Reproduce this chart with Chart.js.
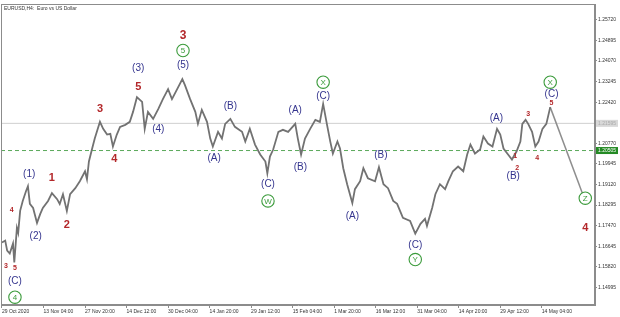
<!DOCTYPE html>
<html><head><meta charset="utf-8">
<script src="https://cdn.jsdelivr.net/npm/chart.js@4.4.1/dist/chart.umd.min.js"></script>
<style>html,body{margin:0;padding:0;background:#fff;}#wrap{width:620px;height:317px;}</style>
</head><body><div id="wrap"><canvas id="c" width="620" height="317"></canvas></div>
<script>
// ---- data (H4 bar index from 29 Oct 2020, price) ----
const barIndex = [0,5,8,12,17,19,23,25,28,32,37,40,43,48,54,59,63,71,77,85,89,94,100,105,113,120,128,131,134,139,143,151,156,162,167,171,177,182,190,197,202,208,216,220,225,233,241,248,256,262,270,278,282,290,298,302,308,316,321,325,333,339,344,352,359,370,375,382,390,398,406,409,413,418,426,433,441,452,456,461,467,475,483,490,495,501,506,510,517,521,526,532,540,544,552,557,564,575,581,588,595,603,609,618,629,637,645,652,655,663,668,675,683,688,695,703,711,717,722,729,737,742,749,756,763,768,773,780,786,793,799,802,807,811,817,822,827,833,839,845];
const closePrices = [1.1679,1.1687,1.1647,1.1635,1.1675,1.1599,1.1738,1.1718,1.1806,1.1846,1.1885,1.1905,1.1834,1.1818,1.1758,1.1794,1.1818,1.1846,1.1877,1.1853,1.1834,1.1873,1.1806,1.1873,1.1897,1.1925,1.1965,1.1933,1.2004,1.2056,1.2096,1.2163,1.2135,1.2112,1.2115,1.2064,1.2112,1.2143,1.2151,1.2163,1.2203,1.2262,1.2243,1.2135,1.2203,1.2175,1.2215,1.2254,1.2294,1.2254,1.2294,1.2334,1.2310,1.2254,1.2203,1.2155,1.2211,1.2163,1.2096,1.2064,1.2123,1.2096,1.2155,1.2175,1.2143,1.2123,1.2084,1.2135,1.2072,1.2032,1.2004,1.1957,1.2024,1.2052,1.2123,1.2131,1.2123,1.2155,1.2096,1.2032,1.2096,1.2135,1.2171,1.2163,1.2235,1.2151,1.2084,1.2036,1.2084,1.2056,1.1977,1.1913,1.1838,1.1893,1.1925,1.1977,1.1937,1.1925,1.1981,1.1913,1.1897,1.1846,1.1834,1.1778,1.1766,1.1715,1.1754,1.1774,1.1746,1.1818,1.1873,1.1913,1.1893,1.1925,1.1965,1.1984,1.1965,1.2032,1.2072,1.2036,1.2052,1.2104,1.2076,1.2064,1.2135,1.2112,1.2056,1.2032,1.2012,1.2044,1.2084,1.2155,1.2171,1.2155,1.2123,1.2064,1.2084,1.2135,1.2155,1.2222];
const projectionBars = [845, 899];
const projectionPrices = [1.2222, 1.1846];
const xTickBars = [0,64,128,192,256,320,384,448,512,576,640,704,768,832];
const xTickLabels = ["29 Oct 2020","13 Nov 04:00","27 Nov 20:00","14 Dec 12:00","30 Dec 04:00","14 Jan 20:00","29 Jan 12:00","15 Feb 04:00","1 Mar 20:00","16 Mar 12:00","31 Mar 04:00","14 Apr 20:00","29 Apr 12:00","14 May 04:00"];
const yTickValues = [1.25720,1.24895,1.24070,1.23245,1.22420,1.21595,1.20770,1.19945,1.19120,1.18295,1.17470,1.16645,1.15820,1.14995];
const greyLevel = 1.2157;
const bidLevel = 1.2048;
const bidText = "1.20505";
const greyText = "1.21595";
const chartTitle = "EURUSD,H4:  Euro vs US Dollar";

// wave labels: text / bar / price
const blueText  = ["(C)","(1)","(2)","(3)","(4)","(5)","(A)","(B)","(C)","(A)","(B)","(C)","(A)","(B)","(C)","(A)","(B)","(C)"];
const blueBar   = [20,42,52,210,241,279,327,352,410,452,460,495,540,584,637,762,788,847];
const bluePrice = [1.1524,1.1953,1.1703,1.2378,1.2135,1.2389,1.2016,1.2227,1.1913,1.2211,1.1981,1.2266,1.1786,1.2028,1.1667,1.2179,1.1945,1.2274];

const redText  = ["1","2","3","4","5","3","4"];
const redBar   = [77,100,151,173,210,279,899];
const redPrice = [1.1937,1.1750,1.2215,1.2016,1.2302,1.2508,1.1738];

const smallRedText  = ["3","5","4","1","2","3","4","5"];
const smallRedBar   = [6,20,15,791,794,811,825,847];
const smallRedPrice = [1.1584,1.1576,1.1810,1.2024,1.1977,1.2195,1.2016,1.2239];

const circleText  = ["4","5","W","X","Y","X","Z"];
const circleBar   = [20,279,410,495,637,845,899];
const circlePrice = [1.1460,1.2449,1.1846,1.2322,1.1611,1.2322,1.1857];

const X_MIN = -1.5, X_MAX = 914, Y_MIN = 1.14287, Y_MAX = 1.26355;

Chart.defaults.font.family = '"Liberation Sans", Arial, sans-serif';

const overlay = {
  id: 'overlay',
  afterDatasetsDraw(chart) {
    const {ctx, chartArea: a, scales: {x, y}} = chart;
    ctx.save();
    ctx.textAlign = 'center';
    ctx.textBaseline = 'middle';
    // blue labels
    ctx.fillStyle = '#34348e';
    ctx.font = '10px "Liberation Sans", Arial, sans-serif';
    blueText.forEach((t, i) => ctx.fillText(t, x.getPixelForValue(blueBar[i]), y.getPixelForValue(bluePrice[i])));
    // red labels
    ctx.fillStyle = '#b3272a';
    redText.forEach((t, i) => {
      ctx.font = (t === '3' && redPrice[i] > 1.245) ? 'bold 12px "Liberation Sans", Arial, sans-serif' : 'bold 11px "Liberation Sans", Arial, sans-serif';
      ctx.fillText(t, x.getPixelForValue(redBar[i]), y.getPixelForValue(redPrice[i]));
    });
    ctx.font = 'bold 7px "Liberation Sans", Arial, sans-serif';
    smallRedText.forEach((t, i) => ctx.fillText(t, x.getPixelForValue(smallRedBar[i]), y.getPixelForValue(smallRedPrice[i])));
    // green circled labels
    circleText.forEach((t, i) => {
      const cx = x.getPixelForValue(circleBar[i]), cy = y.getPixelForValue(circlePrice[i]);
      ctx.beginPath();
      ctx.arc(cx, cy, 6.2, 0, Math.PI * 2);
      ctx.fillStyle = '#ffffff';
      ctx.fill();
      ctx.strokeStyle = '#3b9b3b';
      ctx.lineWidth = 1.1;
      ctx.stroke();
      ctx.fillStyle = '#3b9b3b';
      ctx.font = '8px "Liberation Sans", Arial, sans-serif';
      ctx.fillText(t, cx, cy + 0.5);
    });
    // title
    ctx.textAlign = 'left';
    ctx.fillStyle = '#333';
    ctx.font = '5px "Liberation Sans", Arial, sans-serif';
    ctx.fillText(chartTitle, a.left + 3, a.top + 5);
    // frame
    ctx.strokeStyle = '#8c8c8c';
    ctx.lineWidth = 1;
    ctx.strokeRect(a.left + 0.5, a.top + 0.5, a.width - 1, a.height - 1);
    ctx.restore();
  },
  afterDraw(chart) {
    const {ctx, chartArea: a, scales: {y}} = chart;
    ctx.save();
    ctx.font = '5px "Liberation Sans", Arial, sans-serif';
    ctx.textBaseline = 'middle';
    ctx.textAlign = 'left';
    const gy = y.getPixelForValue(greyLevel);
    ctx.fillStyle = '#d8d8d8';
    ctx.fillRect(a.right + 1, gy - 3.5, 22, 7);
    ctx.fillStyle = '#aaaaaa';
    ctx.fillText(greyText, a.right + 3, gy);
    const by = y.getPixelForValue(bidLevel);
    ctx.fillStyle = '#248a24';
    ctx.fillRect(a.right + 1, by - 3.5, 22, 7);
    ctx.fillStyle = '#ffffff';
    ctx.fillText(bidText, a.right + 3, by);
    ctx.restore();
  }
};

new Chart(document.getElementById('c'), {
  type: 'line',
  data: {
    datasets: [
      {
        data: barIndex.map((b, i) => ({x: b, y: closePrices[i]})),
        borderColor: '#727272', borderWidth: 1.8, pointRadius: 0, tension: 0, order: 1
      },
      {
        data: projectionBars.map((b, i) => ({x: b, y: projectionPrices[i]})),
        borderColor: '#8e8e8e', borderWidth: 1.5, pointRadius: 0, tension: 0, order: 1
      },
      {
        data: [{x: X_MIN, y: greyLevel}, {x: X_MAX, y: greyLevel}],
        borderColor: '#cfcfcf', borderWidth: 1, pointRadius: 0, order: 3
      },
      {
        data: [{x: X_MIN, y: bidLevel}, {x: X_MAX, y: bidLevel}],
        borderColor: '#5aa95a', borderWidth: 1, borderDash: [4, 3], pointRadius: 0, order: 3
      }
    ]
  },
  options: {
    responsive: false,
    animation: false,
    devicePixelRatio: 1,
    layout: {padding: {left: 1, top: 1, right: 0, bottom: 0}},
    plugins: {legend: {display: false}, tooltip: {enabled: false}},
    scales: {
      x: {
        type: 'linear', min: X_MIN, max: X_MAX,
        afterBuildTicks: s => { s.ticks = xTickBars.map(v => ({value: v})); },
        afterFit: s => { s.height = 12; },
        ticks: {
          autoSkip: false, maxRotation: 0, minRotation: 0, align: 'start', padding: 1,
          font: {size: 5}, color: '#333',
          callback: (v, i) => xTickLabels[i]
        },
        grid: {drawOnChartArea: false, drawTicks: true, tickLength: 3, color: '#8c8c8c'},
        border: {display: true, color: '#8c8c8c'}
      },
      y: {
        type: 'linear', position: 'right', min: Y_MIN, max: Y_MAX,
        afterBuildTicks: s => { s.ticks = yTickValues.map(v => ({value: v})); },
        afterFit: s => { s.width = 25; },
        ticks: {
          padding: 1, font: {size: 5}, color: '#333',
          callback: v => Number(v).toFixed(5)
        },
        grid: {drawOnChartArea: false, drawTicks: true, tickLength: 2, color: '#8c8c8c'},
        border: {display: true, color: '#8c8c8c'}
      }
    }
  },
  plugins: [overlay]
});
</script>
</body></html>
